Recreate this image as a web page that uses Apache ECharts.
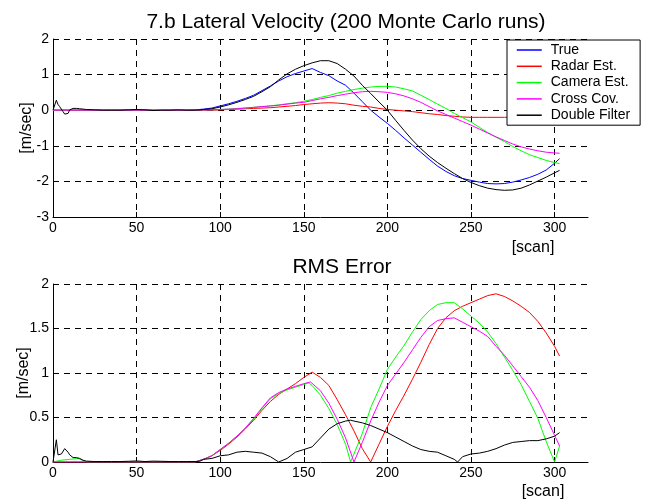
<!DOCTYPE html>
<html>
<head>
<meta charset="utf-8">
<script src="https://cdn.jsdelivr.net/npm/echarts@6/dist/echarts.min.js"></script>
<style>
html,body{margin:0;padding:0;background:#fff;}
#chart{width:655px;height:504px;}
</style>
</head>
<body>
<div id="chart"></div>
<script>
// ---- data ----
const seriesNames = ['True', 'Radar Est.', 'Camera Est.', 'Cross Cov.', 'Double Filter'];
const seriesColors = ['#0000ff', '#ff0000', '#00ff00', '#ff00ff', '#000000'];
const xTicks = [0, 50, 100, 150, 200, 250, 300];

const scanGrid = [0,5,10,15,20,25,30,35,40,45,50,55,60,65,70,75,80,85,90,95,100,105,110,115,120,125,130,135,140,145,150,155,160,165,170,175,180,185,190,195,200,205,210,215,220,225,230,235,240,245,250,255,260,265,270,275,280,285,290,295,300,303];

// top: lateral velocity [m/sec]
const velTrue = [0,0,0,0,0,0,0,0,0,0,0,0,0,0,0,0,0,
  0.01,0.03,0.06,0.12,0.18,0.25,0.33,0.42,0.55,0.68,
  0.82,0.94,1.03,1.10,1.17,1.06,0.97,0.82,0.70,0.48,
  0.24,0.0,-0.19,-0.37,-0.57,-0.78,-0.98,-1.18,-1.38,-1.57,
  -1.72,-1.84,-1.92,-1.97,-2.02,-2.06,-2.07,-2.06,-2.02,-1.96,
  -1.89,-1.80,-1.68,-1.49,-1.36];
const velRadar = [0,0,0,0,0,0,0,0,0,0,0,0,0,0,0,0,0,0,0,0,
  0.01,0.02,0.03,0.04,0.05,0.06,0.07,0.09,0.11,0.13,
  0.16,0.18,0.20,0.21,0.20,0.18,0.14,0.11,0.09,0.05,
  0.02,0.0,-0.02,-0.04,-0.07,-0.10,-0.12,-0.15,-0.17,-0.19,-0.20,
  -0.20,-0.20,-0.20,-0.20,-0.20,-0.20,-0.20,-0.20,-0.20,-0.20,-0.20];
const velCamera = [0,0,0,0,0,0,0,0,0,0,0,0,0,0,0,0,0,0,
  0.01,0.01,0.02,0.03,0.05,0.06,0.08,0.10,0.12,0.15,0.18,0.21,
  0.25,0.30,0.36,0.41,0.48,0.53,0.58,0.62,0.65,0.67,
  0.67,0.65,0.60,0.54,0.42,0.30,0.17,0.05,-0.09,-0.21,
  -0.33,-0.48,-0.63,-0.76,-0.88,-1.02,-1.14,-1.25,-1.33,-1.41,-1.47,-1.50];
const velCross = [0,0,0,0,0,0,0,0,0,0,0,0,0,0,0,0,0,0,
  0.01,0.01,0.02,0.03,0.04,0.06,0.08,0.10,0.12,0.14,0.17,0.20,
  0.22,0.27,0.32,0.36,0.41,0.45,0.49,0.52,0.53,0.52,
  0.50,0.46,0.40,0.32,0.22,0.10,-0.02,-0.12,-0.22,-0.32,
  -0.42,-0.53,-0.64,-0.75,-0.85,-0.95,-1.03,-1.09,-1.14,-1.18,-1.20,-1.21];
const dfScanTop = [0,1,2,3,4,5,6,7,8,9,10,11,12,13,14,16,18,20,25,30,35,40,45,50,55,60,65,70,75,80,85,90,95,100,105,110,115,120,125,130,135,140,145,150,155,160,165,170,175,180,185,190,195,200,205,210,215,220,225,230,235,240,245,250,255,260,265,270,275,280,285,290,295,300,303];
const velDouble = [0,0.05,0.28,0.16,0.10,0.06,-0.04,-0.11,-0.14,-0.09,0.01,0.04,0.05,0.05,0.05,0.04,0.03,0.02,0.01,0.0,0.0,0.0,0.01,0.02,0.01,-0.01,0.0,0.0,0.01,0.0,
  0.0,0.02,0.04,0.09,0.15,0.22,0.30,0.39,0.52,0.66,0.85,1.02,1.15,1.25,1.33,1.39,1.39,1.31,1.15,0.96,
  0.70,0.47,0.23,0.0,-0.29,-0.57,-0.84,-1.08,-1.29,-1.47,-1.63,-1.78,-1.92,-2.03,-2.12,-2.19,-2.23,-2.25,-2.24,-2.19,
  -2.10,-1.99,-1.88,-1.76,-1.69];

// bottom: RMS error [m/sec]
const rmsRadar = [0,0,0,0,0,0,0,0,0,0,0,0,0,0,0,0,0,0,
  0.03,0.07,0.13,0.20,0.28,0.37,0.47,0.58,0.68,0.76,0.82,0.88,
  0.95,1.01,0.95,0.86,0.70,0.53,0.35,0.15,0.0,0.20,
  0.40,0.58,0.75,0.93,1.12,1.32,1.50,1.62,1.70,1.75,
  1.79,1.83,1.87,1.89,1.86,1.81,1.75,1.68,1.58,1.45,1.30,1.19];
const camScanRms = [0,5,10,15,20,25,30,35,40,45,50,55,60,65,70,75,80,85,90,95,100,105,110,115,120,125,130,135,140,145,150,153,155,160,165,170,175,178,180,185,190,195,200,205,210,215,220,225,230,235,240,245,250,255,260,265,270,275,280,285,290,295,300,303];
const rmsCamera = [0,0.02,0.03,0.04,0.0,0,0,0,0,0,0,0,0,0,0,0,0,0,
  0.03,0.07,0.14,0.21,0.29,0.38,0.48,0.60,0.71,0.77,0.81,0.84,
  0.87,0.89,0.86,0.75,0.60,0.42,0.20,0.0,0.09,0.32,
  0.61,0.82,1.04,1.18,1.31,1.46,1.60,1.70,1.77,1.79,
  1.79,1.72,1.64,1.56,1.46,1.33,1.18,1.03,0.87,0.68,
  0.49,0.23,0.0,0.18];
const crossScanRms = [0,5,10,15,20,25,30,35,40,45,50,55,60,65,70,75,80,85,90,95,100,105,110,115,120,125,130,135,140,145,150,154,155,160,165,170,175,180,185,190,195,200,205,210,215,220,225,230,235,240,245,250,255,260,265,270,275,280,285,290,295,300,303];
const rmsCross = [0,0,0,0,0,0,0,0,0,0,0,0,0,0,0,0,0,0,
  0.03,0.07,0.14,0.21,0.29,0.38,0.49,0.61,0.72,0.78,0.82,0.85,
  0.88,0.90,0.89,0.80,0.66,0.48,0.27,0.0,0.22,0.46,
  0.67,0.86,0.99,1.12,1.26,1.40,1.52,1.59,1.61,1.62,
  1.57,1.52,1.47,1.41,1.30,1.20,1.08,0.96,0.84,0.69,
  0.50,0.30,0.18];
const dfScanRms = [0,1,2,3,4,5,6,7,8,9,10,11,12,13,14,15,16,17,18,20,25,30,35,40,45,50,55,60,65,70,75,80,85,88,90,95,100,105,110,115,120,125,130,135,140,145,150,155,160,165,170,175,178,180,185,190,195,200,205,210,215,220,225,230,235,240,242,245,250,255,260,265,270,275,280,285,290,295,300,303];
const rmsDouble = [0,0.02,0.25,0.08,0.10,0.09,0.07,0.15,0.13,0.11,0.08,0.06,0.05,0.04,0.05,0.05,0.04,0.03,0.02,0.01,
  0.005,0.005,0.005,0.005,0.008,0.012,0.005,0.01,0.008,0.005,0.005,0.005,0.005,0.01,
  0.03,0.04,0.07,0.08,0.11,0.12,0.11,0.10,0.06,0.0,0.04,0.11,0.14,0.17,0.27,0.37,0.43,0.46,0.47,0.46,
  0.44,0.41,0.37,0.33,0.28,0.23,0.18,0.14,0.12,0.11,0.07,0.03,0.0,0.06,0.09,0.10,0.12,0.15,0.19,0.22,
  0.23,0.24,0.24,0.26,0.29,0.33];

// ---- chart ----
const FONT = "'Liberation Sans', Arial, Helvetica, sans-serif";
const zip = (xs, ys) => xs.map((x, i) => [x, ys[i]]);
const dash = [6, 5];

function xAxisFor(gi) {
  return {
    type: 'value', gridIndex: gi, min: 0, max: 320, interval: 50,
    axisLine: { show: true, onZero: false, lineStyle: { color: '#000', width: 1 } },
    axisTick: { show: true, inside: true, length: 5, lineStyle: { color: '#000' } },
    axisLabel: { color: '#000', fontSize: 14, fontFamily: FONT, margin: 4, showMaxLabel: false,
      formatter: v => (xTicks.indexOf(v) >= 0 ? String(v) : '') },
    splitLine: { show: true, showMinLine: false, showMaxLine: false,
      lineStyle: { color: '#000', width: 1, type: dash } }
  };
}
function yAxisFor(gi, min, max, interval) {
  return {
    type: 'value', gridIndex: gi, min: min, max: max, interval: interval,
    axisLine: { show: true, onZero: false, lineStyle: { color: '#000', width: 1 } },
    axisTick: { show: true, inside: true, length: 5, lineStyle: { color: '#000' } },
    axisLabel: { color: '#000', fontSize: 14, fontFamily: FONT, margin: 4 },
    splitLine: { show: true, showMinLine: false, showMaxLine: true,
      lineStyle: { color: '#000', width: 1, type: dash } }
  };
}
function line(name, idx, gi, data) {
  return {
    name: name, type: 'line', xAxisIndex: gi, yAxisIndex: gi, data: data,
    symbol: 'none', showSymbol: false, animation: false, clip: true,
    lineStyle: { color: seriesColors[idx], width: 1 },
    itemStyle: { color: seriesColors[idx] }
  };
}

const chart = echarts.init(document.getElementById('chart'), null, { renderer: 'canvas' });
chart.setOption({
  backgroundColor: '#fff',
  animation: false,
  grid: [
    { left: 53, top: 39, width: 535, height: 178 },
    { left: 53, top: 284, width: 535, height: 178 }
  ],
  xAxis: [xAxisFor(0), xAxisFor(1)],
  yAxis: [yAxisFor(0, -3, 2, 1), yAxisFor(1, 0, 2, 0.5)],
  legend: {
    orient: 'vertical', left: 507, top: 40,
    itemWidth: 25, itemHeight: 14, itemGap: 2.3,
    padding: [3, 10, 3, 9],
    backgroundColor: '#fff', borderColor: '#000', borderWidth: 1, borderRadius: 0,
    itemStyle: { opacity: 0 },
    lineStyle: { width: 1.5 },
    textStyle: { fontSize: 14, color: '#000', fontFamily: FONT, padding: [0, 0, 0, 4] },
    data: seriesNames
  },
  graphic: [
    { type: 'text', x: 346, y: 22, style: { text: '7.b Lateral Velocity (200 Monte Carlo runs)', fontSize: 21, fontFamily: FONT, fill: '#000', align: 'center', verticalAlign: 'middle' } },
    { type: 'text', x: 342, y: 267, style: { text: 'RMS Error', fontSize: 21, fontFamily: FONT, fill: '#000', align: 'center', verticalAlign: 'middle' } },
    { type: 'text', x: 27, y: 128, rotation: Math.PI / 2, style: { text: '[m/sec]', fontSize: 16, fontFamily: FONT, fill: '#000', align: 'center', verticalAlign: 'middle' } },
    { type: 'text', x: 24, y: 373, rotation: Math.PI / 2, style: { text: '[m/sec]', fontSize: 16, fontFamily: FONT, fill: '#000', align: 'center', verticalAlign: 'middle' } },
    { type: 'text', x: 533, y: 248, style: { text: '[scan]', fontSize: 16, fontFamily: FONT, fill: '#000', align: 'center', verticalAlign: 'middle' } },
    { type: 'text', x: 543, y: 492, style: { text: '[scan]', fontSize: 16, fontFamily: FONT, fill: '#000', align: 'center', verticalAlign: 'middle' } }
  ],
  series: [
    line(seriesNames[0], 0, 0, zip(scanGrid, velTrue)),
    line(seriesNames[1], 1, 0, zip(scanGrid, velRadar)),
    line(seriesNames[2], 2, 0, zip(scanGrid, velCamera)),
    line(seriesNames[3], 3, 0, zip(scanGrid, velCross)),
    line(seriesNames[4], 4, 0, zip(dfScanTop, velDouble)),
    line(seriesNames[1], 1, 1, zip(scanGrid, rmsRadar)),
    line(seriesNames[2], 2, 1, zip(camScanRms, rmsCamera)),
    line(seriesNames[3], 3, 1, zip(crossScanRms, rmsCross)),
    line(seriesNames[4], 4, 1, zip(dfScanRms, rmsDouble))
  ]
});
</script>
</body>
</html>
